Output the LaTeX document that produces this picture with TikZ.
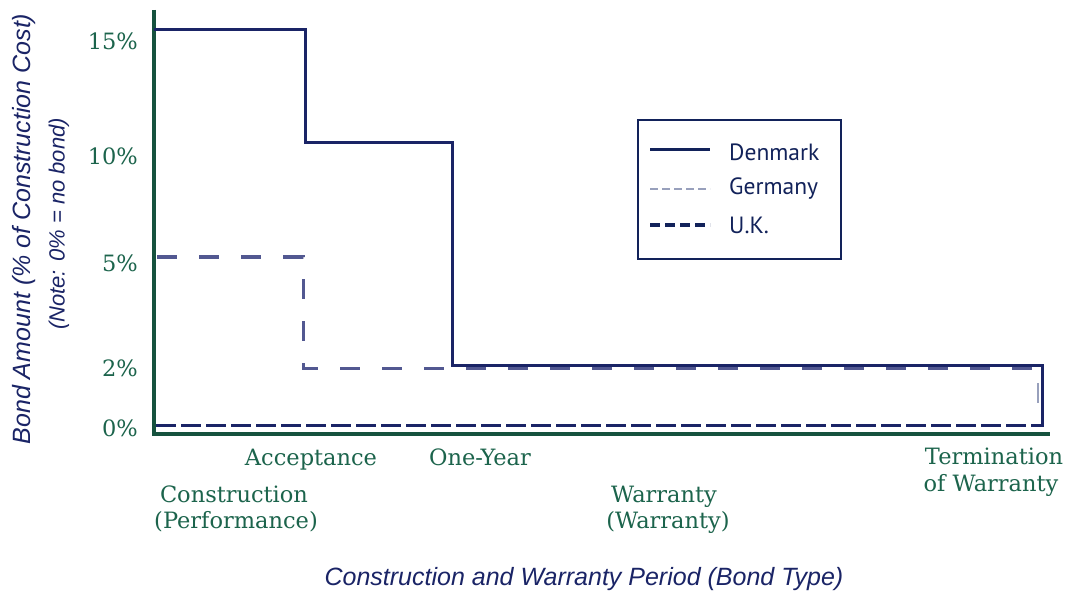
\documentclass[tikz,border=0pt]{standalone}
\usepackage{fontspec}
\setmainfont{DejaVu Serif}
\newfontfamily\titlefont{Liberation Sans}
\newfontfamily\legfont{PT Sans}
\definecolor{axisgreen}{RGB}{22,82,62}
\definecolor{textgreen}{RGB}{28,100,76}
\definecolor{navy}{RGB}{26,36,102}
\definecolor{germ}{RGB}{82,88,145}
\definecolor{germlight}{RGB}{152,160,188}
\definecolor{legnavy}{RGB}{18,34,90}
\begin{document}
\begin{tikzpicture}[x=1pt,y=-1pt,
  ticklab/.style={anchor=east,inner sep=0pt,text=textgreen,font=\fontsize{22.5}{24}\selectfont},
  catlab/.style={anchor=base,inner sep=0pt,text=textgreen,font=\fontsize{22.5}{24}\selectfont},
  axtitle/.style={inner sep=0pt,text=navy,font=\titlefont\itshape\fontsize{25}{28}\selectfont},
  legtext/.style={anchor=west,inner sep=0pt,text=legnavy,font=\legfont\fontsize{23.5}{26}\selectfont},
  axisline/.style={draw=axisgreen,line width=4pt},
  denline/.style={draw=navy,line width=3pt},
  gerline/.style={draw=germ,line width=3pt,dash pattern=on 20pt off 22pt},
  ukline/.style={draw=navy,line width=3pt,dash pattern=on 20pt off 5pt}]
\useasboundingbox (0,0) rectangle (1071,596);
\fill[white] (0,0) rectangle (1071,596);
% axes
\coordinate (top) at (154,10);
\coordinate (origin) at (154,434);
\coordinate (xend) at (1050,434);
\draw[axisline] (top) -- (origin) -- (xend);
% Denmark
\coordinate (d0) at (154,30);
\coordinate (d1) at (305,30);
\coordinate (d2) at (305,143);
\coordinate (d3) at (452,143);
\coordinate (d4) at (452,365);
\coordinate (d5) at (1042,365);
\coordinate (d6) at (1042,427);
\draw[denline] (d0) -- (d1) -- (d2) -- (d3) -- (d4) -- (d5) -- (d6);
% Germany
\coordinate (g0) at (157,257);
\coordinate (g1) at (303,257);
\coordinate (g2) at (303,368);
\coordinate (g3) at (1040,368);
\draw[gerline] (g0) -- (g1) -- (g2) -- (g3);
\coordinate (g4) at (1038,383);
\coordinate (g5) at (1038,403);
\draw[draw=germlight,line width=2.5pt] (g4) -- (g5);
% U.K.
\coordinate (u0) at (156,425);
\coordinate (u1) at (1042,425);
\draw[ukline] (u0) -- (u1);
% tick labels
\node[ticklab] (t15) at (138,41) {15\%};
\node[ticklab] (t10) at (138,156) {10\%};
\node[ticklab] (t5) at (138,263) {5\%};
\node[ticklab] (t2) at (138,368) {2\%};
\node[ticklab] (t0) at (138,428) {0\%};
% category labels
\node[catlab] (acc) at (311,465) {Acceptance};
\node[catlab] (one) at (480,465) {One-Year};
\node[catlab] (term) at (994,464) {Termination};
\node[catlab] (ofw) at (991,491) {of Warranty};
\node[catlab] (cons) at (234,502) {Construction};
\node[catlab] (perf) at (236,528) {(Performance)};
\node[catlab] (war) at (664,502) {Warranty};
\node[catlab] (war2) at (668,528) {(Warranty)};
% axis titles
\node[axtitle,anchor=base] (xt) at (584,585) {Construction and Warranty Period (Bond Type)};
\node[axtitle,rotate=90] (yt) at (24,229) {Bond Amount (\% of Construction Cost)};
\node[axtitle,rotate=90,font=\titlefont\itshape\fontsize{22}{24}\selectfont] (note) at (59,224) {(Note: 0\% = no bond)};
% legend
\node[draw=legnavy,line width=2pt,minimum width=203pt,minimum height=138pt,inner sep=0pt] (legbox) at (739.5,189.5) {};
\coordinate (l1a) at (650,150); \coordinate (l1b) at (710,150);
\coordinate (l2a) at (650,189); \coordinate (l2b) at (710,189);
\coordinate (l3a) at (650,225); \coordinate (l3b) at (710,225);
\draw[draw=legnavy,line width=3pt] (l1a) -- (l1b);
\draw[draw=germlight,line width=2.5pt,dash pattern=on 8pt off 4pt] (l2a) -- (l2b);
\draw[draw=legnavy,line width=4pt,dash pattern=on 10pt off 5pt] (l3a) -- (l3b);
\node[legtext] (den) at (729,152) {Denmark};
\node[legtext] (ger) at (729,189) {Germany};
\node[legtext] (uk) at (729,225) {U.K.};
\end{tikzpicture}
\end{document}
